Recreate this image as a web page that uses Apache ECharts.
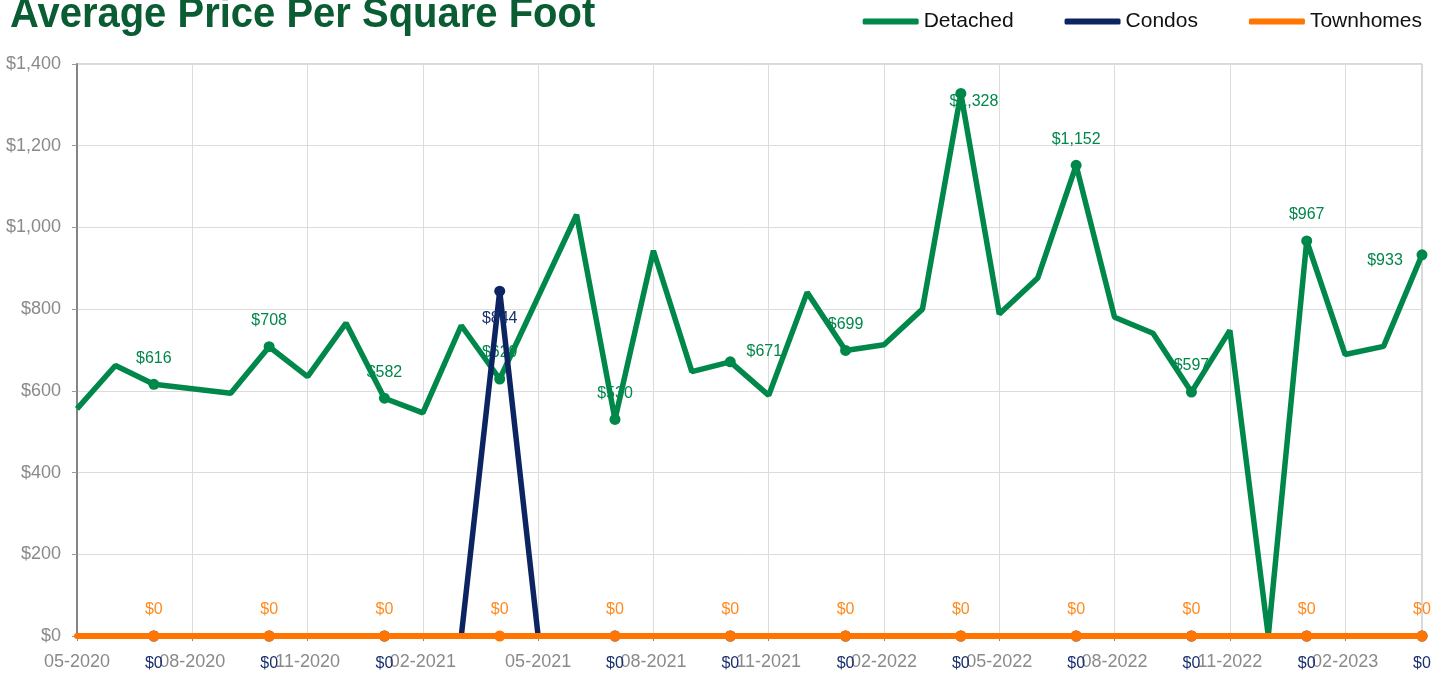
<!DOCTYPE html>
<html>
<head>
<meta charset="utf-8">
<script src="https://cdn.jsdelivr.net/npm/echarts@6/dist/echarts.min.js"></script>
<style>
html,body{margin:0;padding:0;background:#fff;}
#chart{width:1443px;height:673px;}
</style>
</head>
<body>
<div id="chart"></div>
<script>
const categories = ["05-2020","06-2020","07-2020","08-2020","09-2020","10-2020","11-2020","12-2020",
  "01-2021","02-2021","03-2021","04-2021","05-2021","06-2021","07-2021","08-2021","09-2021","10-2021",
  "11-2021","12-2021","01-2022","02-2022","03-2022","04-2022","05-2022","06-2022","07-2022","08-2022",
  "09-2022","10-2022","11-2022","12-2022","01-2023","02-2023","03-2023","04-2023"];
const detached = [556,662,616,605,594,708,635,766,582,546,760,629,830,1031,530,943,647,671,589,841,
  699,713,800,1328,788,876,1152,780,741,597,748,0,967,689,709,933];
const condos = [0,0,0,0,0,0,0,0,0,0,0,844,0,0,0,0,0,0,0,0,0,0,0,0,0,0,0,0,0,0,0,0,0,0,0,0];
const townhomes = [0,0,0,0,0,0,0,0,0,0,0,0,0,0,0,0,0,0,0,0,0,0,0,0,0,0,0,0,0,0,0,0,0,0,0,0];
const yTicks = [0,200,400,600,800,1000,1200,1400];
const titleText = 'Average Price Per Square Foot';

const C_DET = '#00874a', C_CON = '#0c2461', C_TWN = '#ff7500';
const FONT = 'Liberation Sans, Arial, sans-serif';
const fmt = v => '$' + Math.round(v).toLocaleString('en-US');
const marked = i => i % 3 === 2;

const detOffsets = {23:[13,8], 17:[34,-10], 35:[-37,6]};

function build(values, labelColor, defOffset, overrides) {
  return values.map((v, i) => {
    const ov = overrides && overrides[i];
    if (!marked(i) && !(ov && ov.force)) return {value: v, symbol: 'none'};
    const o = ov && ov.offset ? ov.offset : defOffset;
    return {
      value: v, symbol: 'circle', symbolSize: 11,
      label: {show: true, position: 'inside', offset: o, color: labelColor, fontSize: 16,
        fontFamily: FONT, formatter: p => fmt(p.value)}
    };
  });
}
const detOv = {}; Object.keys(detOffsets).forEach(k => detOv[k] = {offset: detOffsets[k]});
const conOv = {11: {force: true, offset: [0, 27]}};

const chart = echarts.init(document.getElementById('chart'), null, {renderer: 'canvas'});
chart.setOption({
  animation: false,
  backgroundColor: '#fff',
  graphic: [{
    type: 'text', x: 10, y: 15, scaleX: 0.93, z: 10,
    style: {text: titleText, fill: '#0a5c32', font: 'bold 43px "Liberation Sans", Arial, sans-serif',
      verticalAlign: 'middle', align: 'left'}
  }],
  legend: {
    right: 16, top: 6, icon: 'roundRect', itemWidth: 56, itemHeight: 6, itemGap: 51,
    textStyle: {fontSize: 21, color: '#111', fontFamily: FONT},
    data: ['Detached', 'Condos', 'Townhomes']
  },
  grid: {left: 77, right: 21, top: 64, bottom: 37, show: true, borderColor: '#b3b3b3', borderWidth: 1, containLabel: false},
  xAxis: {
    type: 'category', data: categories, boundaryGap: false,
    axisLine: {lineStyle: {color: '#888'}},
    axisTick: {show: true, interval: 2, length: 5, lineStyle: {color: '#888'}},
    axisLabel: {interval: 2, color: '#8a8a8a', fontSize: 18, margin: 17, fontFamily: FONT},
    splitLine: {show: true, interval: 2, lineStyle: {color: '#dcdcdc'}}
  },
  yAxis: {
    type: 'value', min: yTicks[0], max: yTicks[yTicks.length - 1], interval: 200,
    axisLine: {show: true, lineStyle: {color: '#858585', width: 2}},
    axisTick: {show: true, length: 5, lineStyle: {color: '#999'}},
    axisLabel: {color: '#8a8a8a', fontSize: 18, margin: 16, formatter: v => fmt(v), fontFamily: FONT},
    splitLine: {lineStyle: {color: '#dcdcdc'}}
  },
  series: [
    {name: 'Detached', type: 'line', data: build(detached, C_DET, [0, -26], detOv), clip: false,
      showAllSymbol: true, lineStyle: {width: 5.5, color: C_DET}, itemStyle: {color: C_DET}, z: 2},
    {name: 'Condos', type: 'line', data: build(condos, '#1a2f6e', [0, 28], conOv), clip: false,
      showAllSymbol: true, lineStyle: {width: 5.5, color: C_CON}, itemStyle: {color: C_CON}, z: 3},
    {name: 'Townhomes', type: 'line', data: build(townhomes, '#ff8a1f', [0, -26], null), clip: false,
      showAllSymbol: true, lineStyle: {width: 6, color: C_TWN, cap: 'round'}, itemStyle: {color: C_TWN},
      zlevel: 1, z: 5}
  ]
});
</script>
</body>
</html>
